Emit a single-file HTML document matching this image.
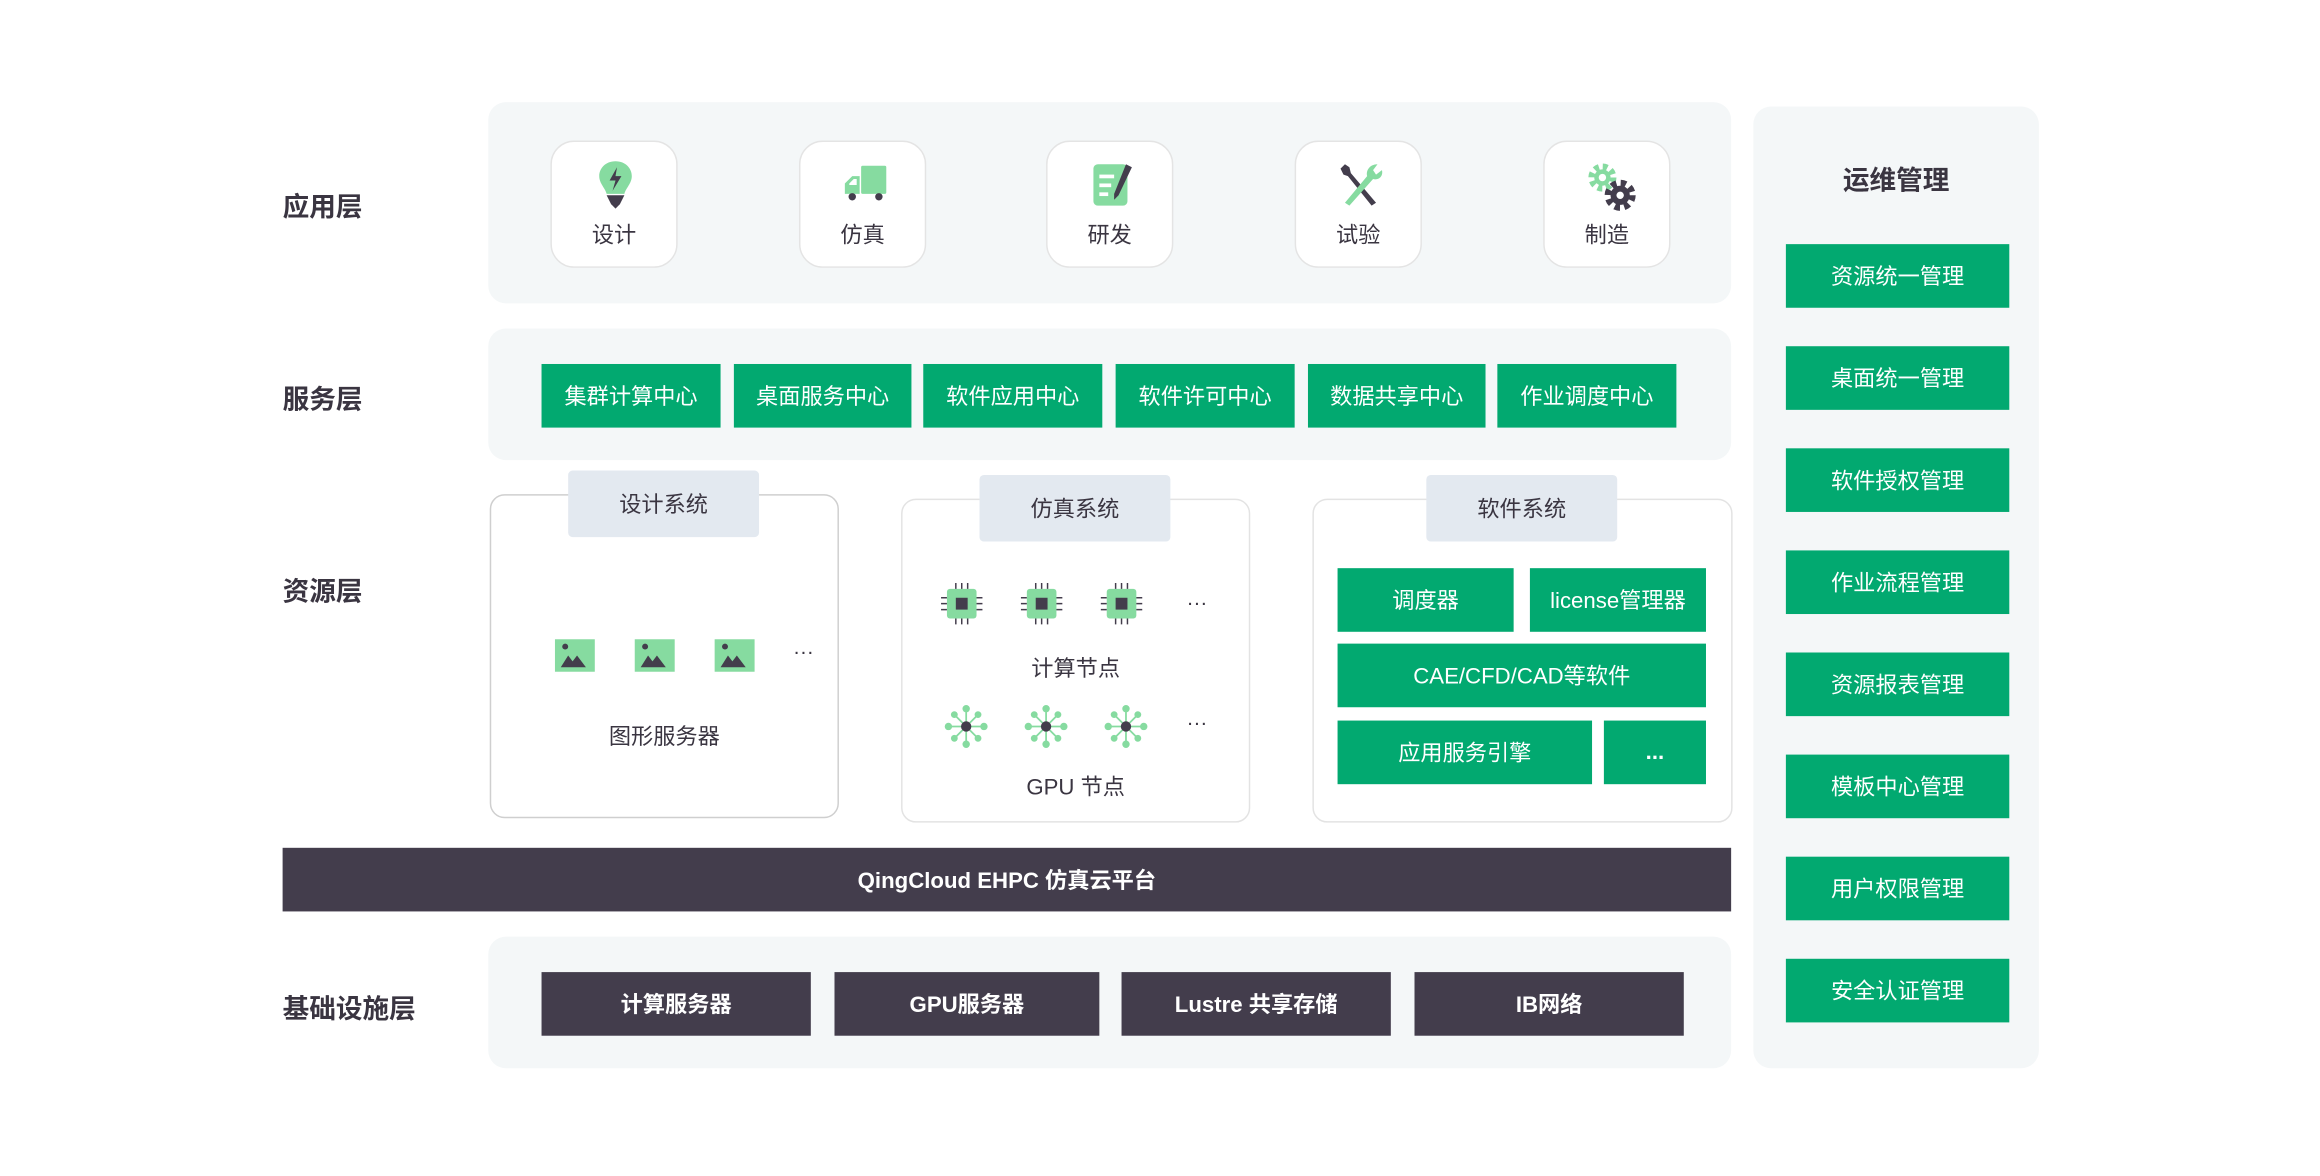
<!DOCTYPE html>
<html><head><meta charset="utf-8"><style>
html,body{margin:0;padding:0;background:#fff;width:2320px;height:1176px;overflow:hidden}
#w{position:absolute;left:0;top:0;width:1568px;height:795px;transform:scale(1.4796);transform-origin:0 0;font-family:"Liberation Sans","Noto Sans CJK SC",sans-serif;color:#3a3541}
.a{position:absolute;box-sizing:border-box}
.lbl{font-size:18px;font-weight:600;color:#3a3541}
.pan{background:#f4f7f8;border-radius:12px}
.g{background:#02a970;color:#fff;font-size:15px;display:flex;align-items:center;justify-content:center;white-space:nowrap}
.d{background:#433d4c;color:#fff;font-size:15px;font-weight:600;display:flex;align-items:center;justify-content:center;white-space:nowrap}
.ib{background:#fff;border:1.5px solid #e4e4e4;border-radius:16px;width:86px;height:86px;top:95px;text-align:center}
.ib span{position:absolute;left:0;right:0;top:52px;font-size:15px}
.ib svg{position:absolute;left:28px;top:12px}
.box{background:#fff;border:1.5px solid #d9d9d9;border-radius:10px}
.tab{background:#e3e9f0;border-radius:3px;display:flex;align-items:center;justify-content:center;font-size:15px;width:129px;height:45px}
.t{font-size:15px;text-align:center}
</style></head><body><div id="w">
<div class="a lbl" style="left:191px;top:126px">应用层</div>
<div class="a lbl" style="left:191px;top:256px">服务层</div>
<div class="a lbl" style="left:191px;top:386px">资源层</div>
<div class="a lbl" style="left:191px;top:668px">基础设施层</div>

<div class="a pan" style="left:330px;top:69px;width:840px;height:136px"></div>
<div class="a ib" style="left:372px"><svg width="30" height="34" viewBox="0 0 30 34"><path d="M15 1C8 1 4 6 4 11c0 5 4 8 5 12h12c1-4 5-7 5-12 0-5-4-10-11-10z" fill="#86dba0"/><path d="M16 5l-5 9h4l-2 7 6-10h-4z" fill="#433d4c"/><path d="M9 24h12l-3 6-3 3-3-3z" fill="#433d4c"/></svg><span>设计</span></div>
<div class="a ib" style="left:540px"><svg width="32" height="32" viewBox="0 0 32 32"><rect x="13" y="4" width="17" height="19" rx="1" fill="#86dba0"/><path d="M2 23V16l5-5h5v12z" fill="#86dba0"/><path d="M5 16l3-3h2v4H5z" fill="#fff"/><circle cx="7" cy="25" r="2.5" fill="#433d4c"/><circle cx="25" cy="25" r="2.5" fill="#433d4c"/></svg><span>仿真</span></div>
<div class="a ib" style="left:707px"><svg width="32" height="34" viewBox="0 0 32 34"><rect x="3" y="3" width="23" height="28" rx="3" fill="#86dba0"/><rect x="7" y="10" width="10" height="2.5" fill="#fff"/><rect x="7" y="16" width="8" height="2.5" fill="#fff"/><rect x="7" y="22" width="6" height="2.5" fill="#fff"/><path d="M25 3l4 2-9 19-3 3 0-4z" fill="#433d4c"/></svg><span>研发</span></div>
<div class="a ib" style="left:875px"><svg width="32" height="34" viewBox="0 0 32 34"><path d="M5 3l3 2 1 4 17 20-3 2L7 11 4 10 2 6z" fill="#433d4c"/><path d="M27 3l-3 4 2 3 4-3c1 4-2 7-6 6L8 31 5 29 20 11c-1-4 2-8 7-8z" fill="#86dba0"/></svg><span>试验</span></div>
<div class="a ib" style="left:1043px"><svg width="34" height="36" viewBox="0 0 34 36"><circle cx="11" cy="12" r="7" fill="none" stroke="#86dba0" stroke-width="5" stroke-dasharray="3 2.5"/><circle cx="11" cy="12" r="5.5" fill="#86dba0"/><circle cx="11" cy="12" r="2.5" fill="#fff"/><circle cx="23" cy="24" r="8" fill="none" stroke="#433d4c" stroke-width="5" stroke-dasharray="3.5 2.8"/><circle cx="23" cy="24" r="6.5" fill="#433d4c"/><circle cx="23" cy="24" r="2.5" fill="#fff"/></svg><span>制造</span></div>

<div class="a pan" style="left:330px;top:222px;width:840px;height:89px"></div>
<div class="a g" style="left:366px;top:246px;width:121px;height:43px">集群计算中心</div>
<div class="a g" style="left:496px;top:246px;width:120px;height:43px">桌面服务中心</div>
<div class="a g" style="left:624px;top:246px;width:121px;height:43px">软件应用中心</div>
<div class="a g" style="left:754px;top:246px;width:121px;height:43px">软件许可中心</div>
<div class="a g" style="left:884px;top:246px;width:120px;height:43px">数据共享中心</div>
<div class="a g" style="left:1012px;top:246px;width:121px;height:43px">作业调度中心</div>

<div class="a box" style="left:331px;top:334px;width:236px;height:219px;border-color:#cfcfcf"></div>
<div class="a tab" style="left:384px;top:318px">设计系统</div>
<svg class="a" style="left:375px;top:432px" width="140" height="24"><g fill="#86dba0"><rect x="0" y="0" width="27" height="22"/><rect x="54" y="0" width="27" height="22"/><rect x="108" y="0" width="27" height="22"/></g><g fill="#433d4c"><circle cx="7" cy="5" r="2"/><path d="M4 19l5-8 3 4 3-4 6 8z"/><circle cx="61" cy="5" r="2"/><path d="M58 19l5-8 3 4 3-4 6 8z"/><circle cx="115" cy="5" r="2"/><path d="M112 19l5-8 3 4 3-4 6 8z"/></g></svg>
<div class="a" style="left:536px;top:432px;font-size:14px">···</div>
<div class="a t" style="left:331px;top:487px;width:236px">图形服务器</div>

<div class="a box" style="left:609px;top:337px;width:236px;height:219px;border-color:#e3e3e3"></div>
<div class="a tab" style="left:662px;top:321px">仿真系统</div>
<svg class="a" style="left:636px;top:394px" width="140" height="30"><g id="c"><rect x="4" y="4" width="20" height="20" rx="2" fill="#86dba0"/><rect x="10" y="10" width="8" height="8" fill="#433d4c"/><g stroke="#433d4c" stroke-width="1"><path d="M10 0v4M14 0v4M18 0v4M10 24v4M14 24v4M18 24v4M0 10h4M0 14h4M0 18h4M24 10h4M24 14h4M24 18h4"/></g></g><use href="#c" x="54"/><use href="#c" x="108"/></svg>
<div class="a" style="left:802px;top:399px;font-size:14px">···</div>
<div class="a t" style="left:609px;top:441px;width:236px">计算节点</div>
<svg class="a" style="left:636px;top:475px" width="140" height="32"><g id="p" transform="translate(17,16)"><g stroke="#86dba0" stroke-width="1.2"><path d="M-10 0H10M0-10V10M-7-7L7 7M-7 7L7-7"/></g><g fill="#86dba0"><circle cx="0" cy="-12" r="2.5"/><circle cx="0" cy="12" r="2.5"/><circle cx="-12" cy="0" r="2.5"/><circle cx="12" cy="0" r="2.5"/><circle cx="-8" cy="-8" r="2.3"/><circle cx="8" cy="8" r="2.3"/><circle cx="-8" cy="8" r="2.3"/><circle cx="8" cy="-8" r="2.3"/></g><circle r="3.5" fill="#433d4c"/></g><use href="#p" x="54"/><use href="#p" x="108"/></svg>
<div class="a" style="left:802px;top:480px;font-size:14px">···</div>
<div class="a t" style="left:609px;top:521px;width:236px">GPU 节点</div>

<div class="a box" style="left:887px;top:337px;width:284px;height:219px;border-color:#e3e3e3"></div>
<div class="a tab" style="left:964px;top:321px">软件系统</div>
<div class="a g" style="left:904px;top:384px;width:119px;height:43px">调度器</div>
<div class="a g" style="left:1034px;top:384px;width:119px;height:43px">license管理器</div>
<div class="a g" style="left:904px;top:435px;width:249px;height:43px">CAE/CFD/CAD等软件</div>
<div class="a g" style="left:904px;top:487px;width:172px;height:43px">应用服务引擎</div>
<div class="a g" style="left:1084px;top:487px;width:69px;height:43px;font-weight:700">...</div>

<div class="a d" style="left:191px;top:573px;width:979px;height:43px">QingCloud EHPC 仿真云平台</div>

<div class="a pan" style="left:330px;top:633px;width:840px;height:89px"></div>
<div class="a d" style="left:366px;top:657px;width:182px;height:43px">计算服务器</div>
<div class="a d" style="left:564px;top:657px;width:179px;height:43px">GPU服务器</div>
<div class="a d" style="left:758px;top:657px;width:182px;height:43px">Lustre 共享存储</div>
<div class="a d" style="left:956px;top:657px;width:182px;height:43px">IB网络</div>

<div class="a pan" style="left:1185px;top:72px;width:193px;height:650px"></div>
<div class="a lbl" style="left:1185px;top:108px;width:193px;text-align:center">运维管理</div>
<div class="a g" style="left:1207px;top:165px;width:151px;height:43px">资源统一管理</div>
<div class="a g" style="left:1207px;top:234px;width:151px;height:43px">桌面统一管理</div>
<div class="a g" style="left:1207px;top:303px;width:151px;height:43px">软件授权管理</div>
<div class="a g" style="left:1207px;top:372px;width:151px;height:43px">作业流程管理</div>
<div class="a g" style="left:1207px;top:441px;width:151px;height:43px">资源报表管理</div>
<div class="a g" style="left:1207px;top:510px;width:151px;height:43px">模板中心管理</div>
<div class="a g" style="left:1207px;top:579px;width:151px;height:43px">用户权限管理</div>
<div class="a g" style="left:1207px;top:648px;width:151px;height:43px">安全认证管理</div>
</div></body></html>
